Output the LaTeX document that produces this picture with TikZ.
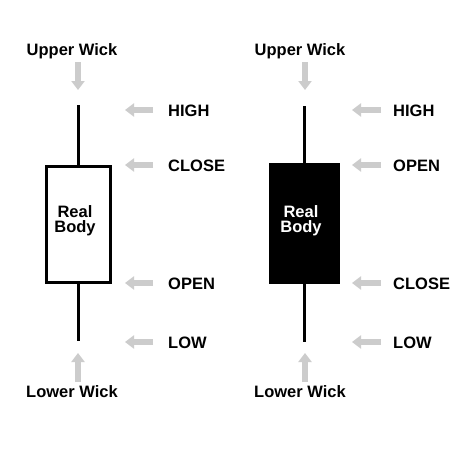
\documentclass[tikz,border=0pt]{standalone}
\usepackage{fontspec}
\setmainfont{Liberation Sans}
\usetikzlibrary{arrows.meta}
\begin{document}
\begin{tikzpicture}[x=1pt,y=-1pt,
  lbl/.style={font=\fontsize{16.5}{18}\selectfont\bfseries, inner sep=0pt},
  garrow/.style={draw=gray!40, line width=6pt, -{Triangle[width=13pt,length=9pt]}},
  wick/.style={draw=black, line width=3pt}]
\useasboundingbox (0,0) rectangle (476,461);
\fill[white] (0,0) rectangle (476,461);
% left candle
\node[wick, fill=white, minimum width=64pt, minimum height=116pt, inner sep=0pt, anchor=north west] (lbody) at (45,164.5) {};
\coordinate (lhi) at (78,105);
\coordinate (llo) at (78,341);
\draw[wick] (lhi) -- (lbody.north -| lhi);
\draw[wick] (lbody.south -| llo) -- (llo);
\node[lbl, anchor=base] (lreal) at (75,217) {Real};
\node[lbl, anchor=base] (lbodyt) at (75,232) {Body};
% right candle
\node[fill=black, minimum width=71pt, minimum height=121pt, inner sep=0pt, anchor=north west] (rbody) at (269,163) {};
\coordinate (rhi) at (304,106);
\coordinate (rlo) at (304,342);
\draw[wick] (rhi) -- (rbody.north -| rhi);
\draw[wick] (rbody.south -| rlo) -- (rlo);
\node[lbl, white, anchor=base] (rreal) at (301,217) {Real};
\node[lbl, white, anchor=base] (rbodyt) at (301,232) {Body};
% wick labels
\node[lbl, anchor=base] (luw) at (72,55) {Upper Wick};
\node[lbl, anchor=base] (llw) at (72,397) {Lower Wick};
\node[lbl, anchor=base] (ruw) at (300,55) {Upper Wick};
\node[lbl, anchor=base] (rlw) at (300,397) {Lower Wick};
\coordinate (luwt) at (78,62); \coordinate (luwh) at (78,90);
\coordinate (llwt) at (78,382); \coordinate (llwh) at (78,353);
\coordinate (ruwt) at (305,62); \coordinate (ruwh) at (305,90);
\coordinate (rlwt) at (305,382); \coordinate (rlwh) at (305,353);
\draw[garrow] (luwt) -- (luwh);
\draw[garrow] (llwt) -- (llwh);
\draw[garrow] (ruwt) -- (ruwh);
\draw[garrow] (rlwt) -- (rlwh);
% left price labels
\node[lbl, anchor=base west] (lhigh) at (168,116) {HIGH};
\node[lbl, anchor=base west] (lclose) at (168,171) {CLOSE};
\node[lbl, anchor=base west] (lopen) at (168,289) {OPEN};
\node[lbl, anchor=base west] (llow) at (168,348) {LOW};
\foreach \n/\y in {a/110,b/165,c/283,d/342}{
  \coordinate (lt\n) at (153,\y); \coordinate (lh\n) at (125,\y);
  \draw[garrow] (lt\n) -- (lh\n);
}
% right price labels
\node[lbl, anchor=base west] (rhigh) at (393,116) {HIGH};
\node[lbl, anchor=base west] (ropen) at (393,171) {OPEN};
\node[lbl, anchor=base west] (rclose) at (393,289) {CLOSE};
\node[lbl, anchor=base west] (rlow) at (393,348) {LOW};
\foreach \n/\y in {a/110,b/165,c/283,d/342}{
  \coordinate (rt\n) at (381,\y); \coordinate (rh\n) at (352,\y);
  \draw[garrow] (rt\n) -- (rh\n);
}
\end{tikzpicture}
\end{document}
